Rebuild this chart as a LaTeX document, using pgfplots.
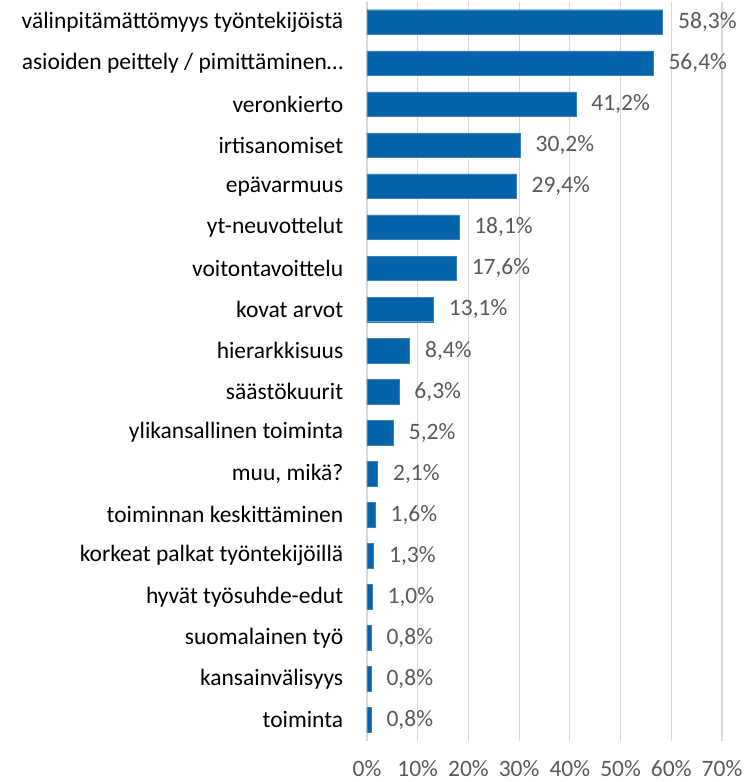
\documentclass[border=0pt]{standalone}
\usepackage{pgfplots}
\pgfplotsset{compat=1.18}
\usepackage{fontspec}
\setmainfont{Carlito}
\definecolor{barblue}{HTML}{0563AA}
\definecolor{gridgray}{HTML}{D9D9D9}
\definecolor{labgray}{HTML}{595959}

\begin{document}
\begin{tikzpicture}
\begin{axis}[
    xbar,
    scale only axis,
    width=355pt,
    height=739pt,
    bar width=0.6,
    y dir=reverse,
    ymin=-0.5, ymax=17.5,
    xmin=0, xmax=70,
    xtick={0,10,...,70},
    /pgf/number format/assume math mode=true,
    xticklabel={\pgfmathprintnumber{\tick}\%},
    xticklabel style={font=\fontsize{23.5}{26}\selectfont, text=labgray, yshift=-16pt},
    ytick={0,...,17},
    yticklabels={
        välinpitämättömyys työntekijöistä,
        asioiden peittely / pimittäminen…,
        veronkierto,
        irtisanomiset,
        epävarmuus,
        yt-neuvottelut,
        voitontavoittelu,
        kovat arvot,
        hierarkkisuus,
        säästökuurit,
        ylikansallinen toiminta,
        {muu, mikä?},
        toiminnan keskittäminen,
        korkeat palkat työntekijöillä,
        hyvät työsuhde-edut,
        suomalainen työ,
        kansainvälisyys,
        toiminta},
    yticklabel style={font=\fontsize{23.5}{26}\selectfont, text=black, xshift=-16pt},
    xmajorgrids=true,
    major grid style={draw=gridgray, line width=1.2pt},
    axis line style={draw=none},
    tick style={draw=none},
    nodes near coords={\pgfmathprintnumber[use comma,fixed,fixed zerofill,precision=1,assume math mode=true]{\pgfplotspointmeta}\%},
    nodes near coords style={font=\fontsize{23.5}{26}\selectfont, text=labgray, anchor=west, xshift=12pt},
    point meta=explicit,
]
\addplot[fill=barblue, draw=barblue!80!white, line width=0.4pt] table[meta=v] {
x y v
58.3 0 58.3
56.4 1 56.4
41.2 2 41.2
30.2 3 30.2
29.4 4 29.4
18.1 5 18.1
17.6 6 17.6
13.1 7 13.1
8.4 8 8.4
6.3 9 6.3
5.2 10 5.2
2.1 11 2.1
1.6 12 1.6
1.3 13 1.3
1.0 14 1.0
0.8 15 0.8
0.8 16 0.8
0.8 17 0.8
};
\end{axis}
\path ([xshift=-367pt,yshift=-41.5pt]current axis.south west) rectangle ([xshift=23pt,yshift=1.5pt]current axis.north east);
\end{tikzpicture}
\end{document}
